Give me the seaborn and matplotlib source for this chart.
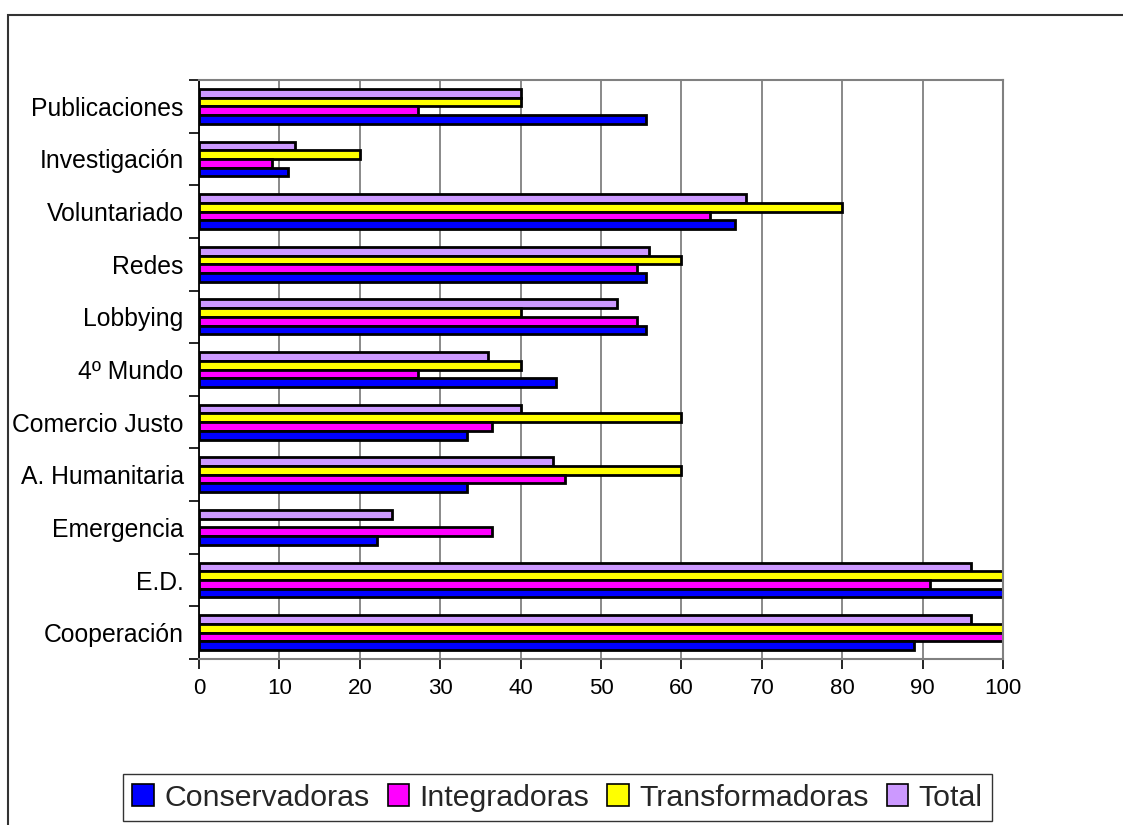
import numpy as np
import pandas as pd
import seaborn as sns
import matplotlib.pyplot as plt
from matplotlib.patches import Patch, Rectangle
from matplotlib.ticker import FixedLocator, MultipleLocator

# Activity areas (top to bottom) and share of organisations per group (%)
actividades = ["Publicaciones", "Investigación", "Voluntariado", "Redes", "Lobbying",
               "4º Mundo", "Comercio Justo", "A. Humanitaria", "Emergencia", "E.D.",
               "Cooperación"]
conservadoras = [55.6, 11.1, 66.7, 55.6, 55.6, 44.4, 33.3, 33.3, 22.2, 100.0, 88.9]
integradoras = [27.3, 9.1, 63.6, 54.5, 54.5, 27.3, 36.4, 45.5, 36.4, 90.9, 100.0]
transformadoras = [40, 20, 80, 60, 40, 40, 60, 60, 0, 100, 100]
total = [40, 12, 68, 56, 52, 36, 40, 44, 24, 96, 96]

grupos = ["Conservadoras", "Integradoras", "Transformadoras", "Total"]
colores = {"Conservadoras": "#0000FF", "Integradoras": "#FF00FF",
           "Transformadoras": "#FFFF00", "Total": "#CC99FF"}

df = pd.DataFrame({
    "Actividad": actividades * 4,
    "Grupo": sum([[g] * len(actividades) for g in grupos], []),
    "Porcentaje": conservadoras + integradoras + transformadoras + total,
})

sns.set_theme(style="white")
plt.rcParams["font.family"] = ["Liberation Sans", "DejaVu Sans"]

fig = plt.figure(figsize=(11.23, 8.25), dpi=100)
ax = fig.add_axes([199 / 1123, 1 - 659 / 825, (1003 - 199) / 1123, (659 - 80) / 825])

sns.barplot(data=df, y="Actividad", x="Porcentaje", hue="Grupo",
            order=actividades, hue_order=grupos[::-1], palette=colores,
            saturation=1, orient="h", width=0.66, edgecolor="black", linewidth=2.0,
            legend=False, ax=ax)

ax.set_xlim(0, 100)
ax.set_ylim(len(actividades) - 0.5, -0.5)
ax.xaxis.set_major_locator(MultipleLocator(10))
ax.grid(axis="x", color="#808080", linewidth=1.3)
ax.grid(axis="y", visible=False)
ax.set_axisbelow(True)
ax.set_xlabel("")
ax.set_ylabel("")

# Category ticks sit between groups; labels stay centred
ax.yaxis.set_minor_locator(FixedLocator(np.arange(-0.5, len(actividades), 1.0)))
ax.tick_params(axis="y", which="major", length=0, labelsize=17.8, pad=11, labelcolor="black")
ax.tick_params(axis="y", which="minor", left=True, length=7, width=1.2, color="black")
ax.tick_params(axis="x", which="major", bottom=True, length=7, width=1.2, color="black",
               labelsize=16, pad=7, labelcolor="black")

for side in ["top", "right", "bottom"]:
    ax.spines[side].set_color("#808080")
    ax.spines[side].set_linewidth(1.5)
ax.spines["left"].set_color("black")
ax.spines["left"].set_linewidth(1.3)

handles = [Patch(facecolor=colores[g], edgecolor="black", linewidth=1.2, label=g) for g in grupos]
leg = fig.legend(handles=handles, loc="center", bbox_to_anchor=(557.5 / 1123, 1 - 797.5 / 825),
                 ncol=4, fontsize=21.8, frameon=True, fancybox=False, handlelength=0.7,
                 handleheight=0.7, handletextpad=0.35, columnspacing=0.6, borderpad=0.3,
                 borderaxespad=0)
leg.get_frame().set_edgecolor("black")
leg.get_frame().set_linewidth(1.0)

# Outer chart border
fig.patches.append(Rectangle((8 / 1123, -0.2), 1.2, 0.2 + (1 - 15 / 825), transform=fig.transFigure,
                             fill=False, edgecolor="#333333", linewidth=1.5))

fig.savefig("out.png", dpi=100)
